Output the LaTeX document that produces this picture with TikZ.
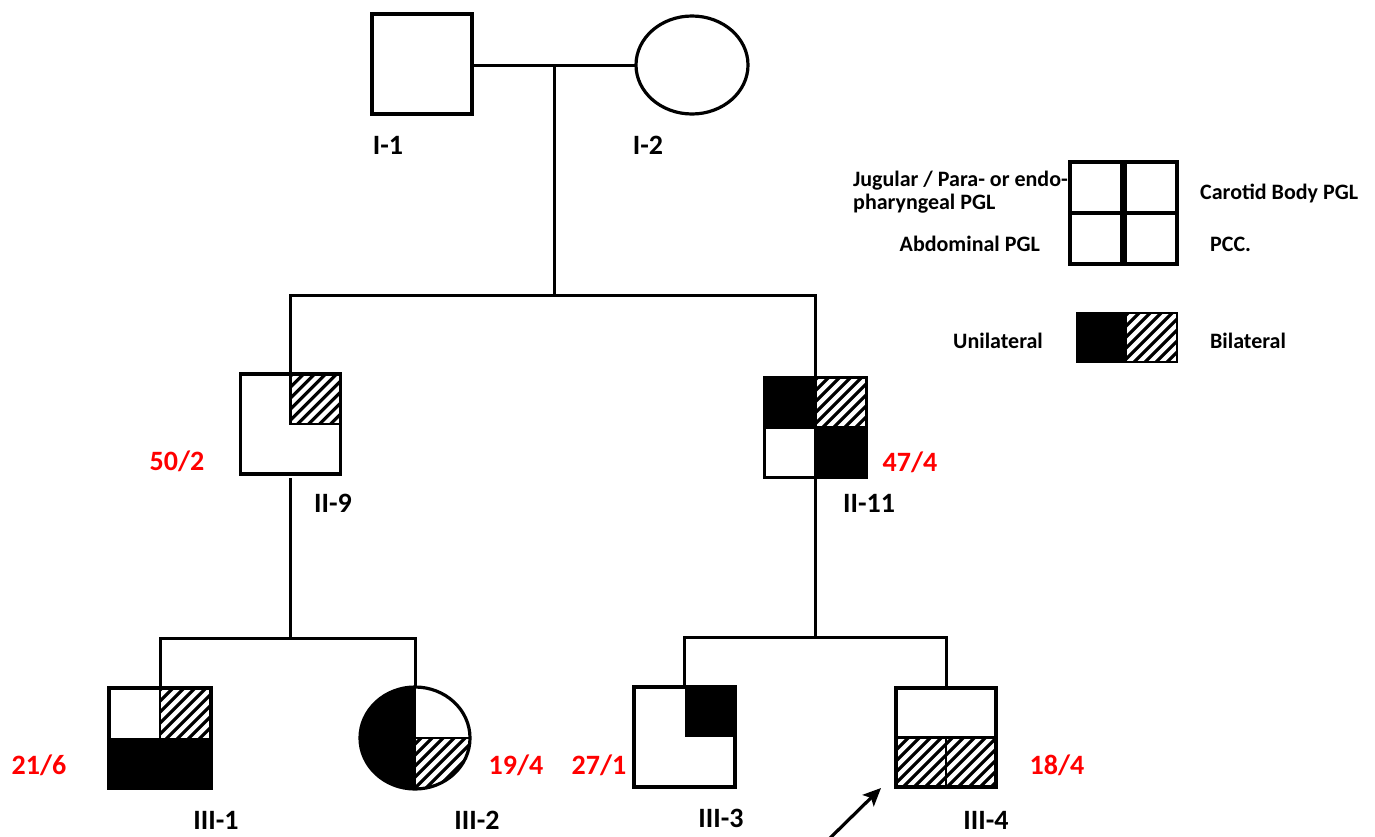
\documentclass[tikz,border=0pt]{standalone}
\usepackage{fontspec}
\setmainfont{Carlito}
\usetikzlibrary{shapes.geometric,arrows.meta}
\newcommand\hatchrect[4]{%
  \begin{scope}
    \clip (#1,#2) rectangle (#3,#4);
    \foreach \k in {-130,-119,...,120}
      \draw[line width=3.2pt] ({#1+\k},{#4+5}) -- ++(140,-140);
  \end{scope}}
\tikzset{
  person/.style={draw, line width=3.2pt, minimum width=100pt, minimum height=100pt, inner sep=0pt, outer sep=0pt},
  fem/.style={ellipse, draw, line width=3.2pt, inner sep=0pt, outer sep=0pt},
  conn/.style={line width=3pt},
  lbl/.style={font=\fontsize{28}{28}\selectfont\bfseries, anchor=base, inner sep=0pt},
  age/.style={lbl, text=red},
  leg/.style={font=\fontsize{22}{24}\selectfont\bfseries, inner sep=0pt},
  legbox/.style={line width=3.2pt},
}
\begin{document}
\begin{tikzpicture}[x=1pt,y=-1pt]
\useasboundingbox (0,0) rectangle (1375,836);

% ---------- fills ----------
% II-9
\hatchrect{290.5}{374}{340.5}{424}
% II-11
\fill (764,377) rectangle (815.5,427.5);
\fill (815.5,427.5) rectangle (867,478);
\hatchrect{815.5}{377}{867}{427.5}
% III-1
\hatchrect{160}{688}{211}{738}
\fill (109,738) rectangle (211,788);
% III-2
\begin{scope}
  \clip (415,738) ellipse [x radius=55, y radius=51];
  \fill (355,680) rectangle (415,795);
\end{scope}
\begin{scope}
  \clip (415,738) ellipse [x radius=55, y radius=51];
  \hatchrect{415}{738}{472}{792}
\end{scope}
% III-3
\fill (684.5,687) rectangle (735,737);
% III-4
\hatchrect{896}{737.5}{996}{787}

% ---------- persons ----------
\node[person] (I1) at (422,64) {};
\node[fem, minimum width=112pt, minimum height=98pt] (I2) at (692,65) {};
\node[person] (II9) at (290.5,424) {};
\node[person, minimum width=102pt] (II11) at (815.5,427.5) {};
\node[person, minimum width=102pt] (III1) at (160,738) {};
\node[fem, minimum width=110pt, minimum height=102pt] (III2) at (415,738) {};
\node[person, minimum width=101pt] (III3) at (684.5,737) {};
\node[person, minimum height=99pt] (III4) at (946,737.5) {};

% inner dividers
\draw[line width=2.8pt] (II9.north) -- (290.5,424) -- (340.5,424);
\draw[line width=2.8pt] (II11.north) -- (II11.south);
\draw[line width=2.8pt] (II11.west) -- (II11.east);
\draw[line width=2.8pt] (III1.north) -- (160,738);
\draw[line width=2.8pt] (III2.north) -- (III2.south);
\draw[line width=2.8pt] (III2.center) -- (III2.east);
\draw[line width=2.8pt] (III4.west) -- (III4.east);
\draw[line width=2.8pt] (III4.center) -- (III4.south);

% ---------- connectors ----------
\coordinate (m1) at (554,65);
\coordinate (s1) at (554,295);
\coordinate (s2) at (291,638);
\coordinate (s3) at (817,637);
\draw[conn] (I1.east |- m1) -- (I2.west |- m1);
\draw[conn] (m1) -- (s1);
\draw[conn] (II9.north) -- (II9.north |- s1) -- (II11.north |- s1) -- (II11.north);
\draw[conn] ([yshift=-4pt]II9.south) -- (II9.south |- s2);
\draw[conn] (III1.north) -- (III1.north |- s2) -- (III2.north |- s2) -- (III2.north);
\draw[conn] (II11.south) -- (II11.south |- s3);
\draw[conn] (III3.north) -- (III3.north |- s3) -- (III4.north |- s3) -- (III4.north);

% proband arrow
\coordinate (atail) at (826,842);
\coordinate (atip) at (881,788);
\draw[line width=3.2pt, -{Stealth[length=18pt, width=16pt, inset=4pt]}] (atail) -- (atip);

% ---------- labels ----------
\node[lbl] (l-I1) at (388,154) {I-1};
\node[lbl] (l-I2) at (648,154) {I-2};
\node[lbl] (l-II9) at (333,512) {II-9};
\node[lbl] (l-II11) at (869,512) {II-11};
\node[lbl] (l-III1) at (216,829) {III-1};
\node[lbl] (l-III2) at (477,829) {III-2};
\node[lbl] (l-III3) at (721,827) {III-3};
\node[lbl] (l-III4) at (986,829) {III-4};
\node[age] (a-II9) at (177,470) {50/2};
\node[age] (a-II11) at (910,471) {47/4};
\node[age] (a-III1) at (39,774) {21/6};
\node[age] (a-III2) at (516,774) {19/4};
\node[age] (a-III3) at (599,774) {27/1};
\node[age] (a-III4) at (1057,774) {18/4};

% ---------- legend ----------
\draw[legbox] (1070,162) rectangle (1122,264);
\draw[legbox] (1125,162) rectangle (1177,264);
\draw[legbox] (1070,213) -- (1122,213);
\draw[legbox] (1125,213) -- (1177,213);
\fill (1077,313) rectangle (1127,362);
\hatchrect{1127}{313}{1177}{362}
\draw[line width=2pt] (1077,313) rectangle (1177,362);

\node[leg, anchor=base east] (t-jug) at (1068,186) {Jugular / Para- or endo-};
\node[leg, anchor=base west] (t-phar) at (853,209) {pharyngeal PGL};
\node[leg, anchor=base west] (t-car) at (1200,199) {Carotid Body PGL};
\node[leg, anchor=base east] (t-abd) at (1040,251) {Abdominal PGL};
\node[leg, anchor=base west] (t-pcc) at (1210,251) {PCC.};
\node[leg, anchor=base] (t-uni) at (998,348) {Unilateral};
\node[leg, anchor=base] (t-bil) at (1248,348) {Bilateral};
\end{tikzpicture}
\end{document}
